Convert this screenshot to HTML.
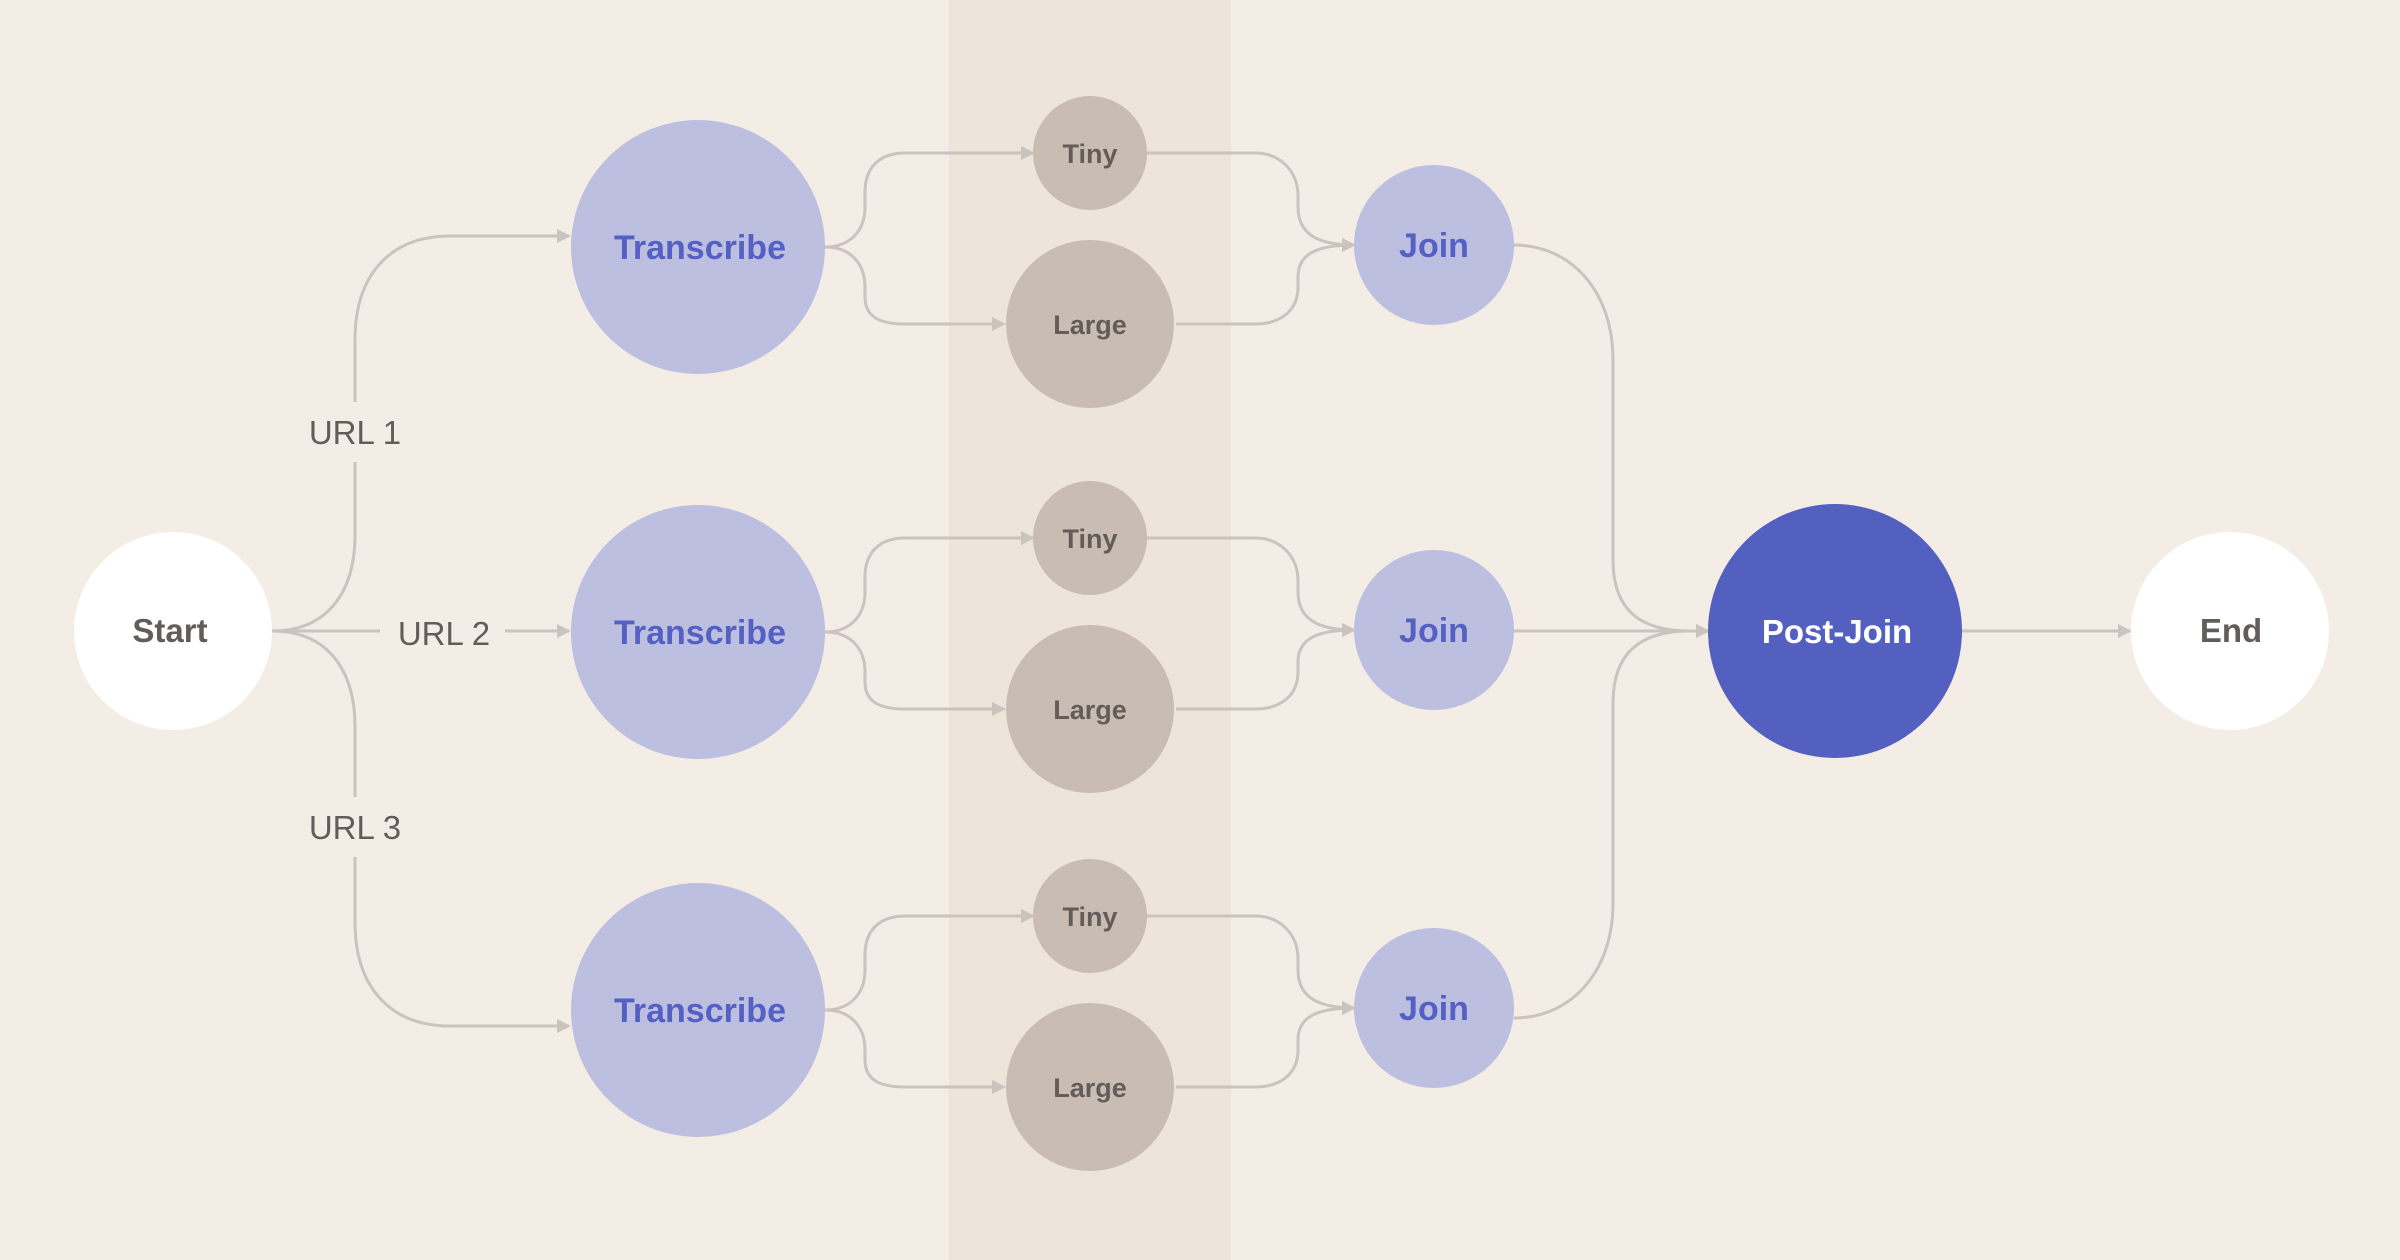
<!DOCTYPE html>
<html><head><meta charset="utf-8"><style>
html,body{margin:0;padding:0;background:#f3ede6;}
svg{display:block}
text{font-family:"Liberation Sans",sans-serif;}
</style></head><body>
<svg width="2400" height="1260" viewBox="0 0 2400 1260" xmlns="http://www.w3.org/2000/svg">
<defs>
<marker id="a" markerWidth="14" markerHeight="14" refX="12" refY="7" orient="auto" markerUnits="userSpaceOnUse">
<path d="M0,0 L14,7 L0,14 Z" fill="#c9c4be"/>
</marker>
<g id="row">
  <path d="M825,0 C850,0 865,-16 865,-40 L865,-55 C865,-80 880,-94 905,-94 L1033,-94" marker-end="url(#a)"/>
  <path d="M825,0 C850,0 865,16 865,40 L865,50 C865,70 880,77 905,77 L1004,77" marker-end="url(#a)"/>
  <path d="M1146,-94 L1255,-94 C1280,-94 1298,-76 1298,-51 L1298,-40 C1298,-15 1315,-2 1354,-2" marker-end="url(#a)"/>
  <path d="M1176,77 L1255,77 C1280,77 1298,64 1298,40 L1298,30 C1298,8 1315,-2 1354,-2" marker-end="url(#a)"/>
  <circle cx="698" cy="0" r="127" fill="#bcbfe0" stroke="none"/>
  <circle cx="1090" cy="-94" r="57" fill="#c9bdb3" stroke="none"/>
  <circle cx="1090" cy="77" r="84" fill="#c9bdb3" stroke="none"/>
  <circle cx="1434" cy="-2" r="80" fill="#bcbfe0" stroke="none"/>
  <text x="700" y="12" font-size="34" font-weight="bold" fill="#5560c4" text-anchor="middle" stroke="none">Transcribe</text>
  <text x="1090" y="-84" font-size="27" font-weight="bold" fill="#625d58" text-anchor="middle" stroke="none">Tiny</text>
  <text x="1090" y="87" font-size="27" font-weight="bold" fill="#625d58" text-anchor="middle" stroke="none">Large</text>
  <text x="1434" y="10" font-size="34" font-weight="bold" fill="#5560c4" text-anchor="middle" stroke="none">Join</text>
</g>
</defs>
<rect x="0" y="0" width="2400" height="1260" fill="#f3ede6"/>
<rect x="949" y="0" width="282" height="1260" fill="#ede5da"/>
<g fill="none" stroke="#c9c4be" stroke-width="3">
  <path d="M272,631 C325,631 355,595 355,535 L355,340 C355,275 390,236 450,236 L569,236" marker-end="url(#a)"/>
  <path d="M272,631 C325,631 355,667 355,727 L355,922 C355,987 390,1026 450,1026 L569,1026" marker-end="url(#a)"/>
  <path d="M272,631 L380,631"/>
  <path d="M505,631 L569,631" marker-end="url(#a)"/>
  <path d="M1514,245 C1570,245 1613,290 1613,360 L1613,560 C1613,610 1640,631 1690,631 L1708,631" marker-end="url(#a)"/>
  <path d="M1514,1018 C1570,1018 1613,973 1613,903 L1613,703 C1613,653 1640,631 1690,631" />
  <path d="M1514,631 L1708,631" marker-end="url(#a)"/>
  <path d="M1962,631 L2130,631" marker-end="url(#a)"/>
  <use href="#row" transform="translate(0,247)"/>
  <use href="#row" transform="translate(0,632)"/>
  <use href="#row" transform="translate(0,1010)"/>
</g>
<rect x="300" y="402" width="110" height="60" fill="#f3ede6"/>
<rect x="300" y="797" width="110" height="60" fill="#f3ede6"/>
<text x="355" y="444" font-size="33" fill="#625d58" text-anchor="middle">URL 1</text>
<text x="444" y="645" font-size="33" fill="#625d58" text-anchor="middle">URL 2</text>
<text x="355" y="839" font-size="33" fill="#625d58" text-anchor="middle">URL 3</text>
<circle cx="173" cy="631" r="99" fill="#ffffff"/>
<text x="170" y="642" font-size="33" font-weight="bold" fill="#625d58" text-anchor="middle">Start</text>
<circle cx="1835" cy="631" r="127" fill="#5460c0"/>
<text x="1837" y="643" font-size="33" font-weight="bold" fill="#ffffff" text-anchor="middle">Post-Join</text>
<circle cx="2230" cy="631" r="99" fill="#ffffff"/>
<text x="2231" y="642" font-size="33" font-weight="bold" fill="#625d58" text-anchor="middle">End</text>
</svg>
</body></html>
